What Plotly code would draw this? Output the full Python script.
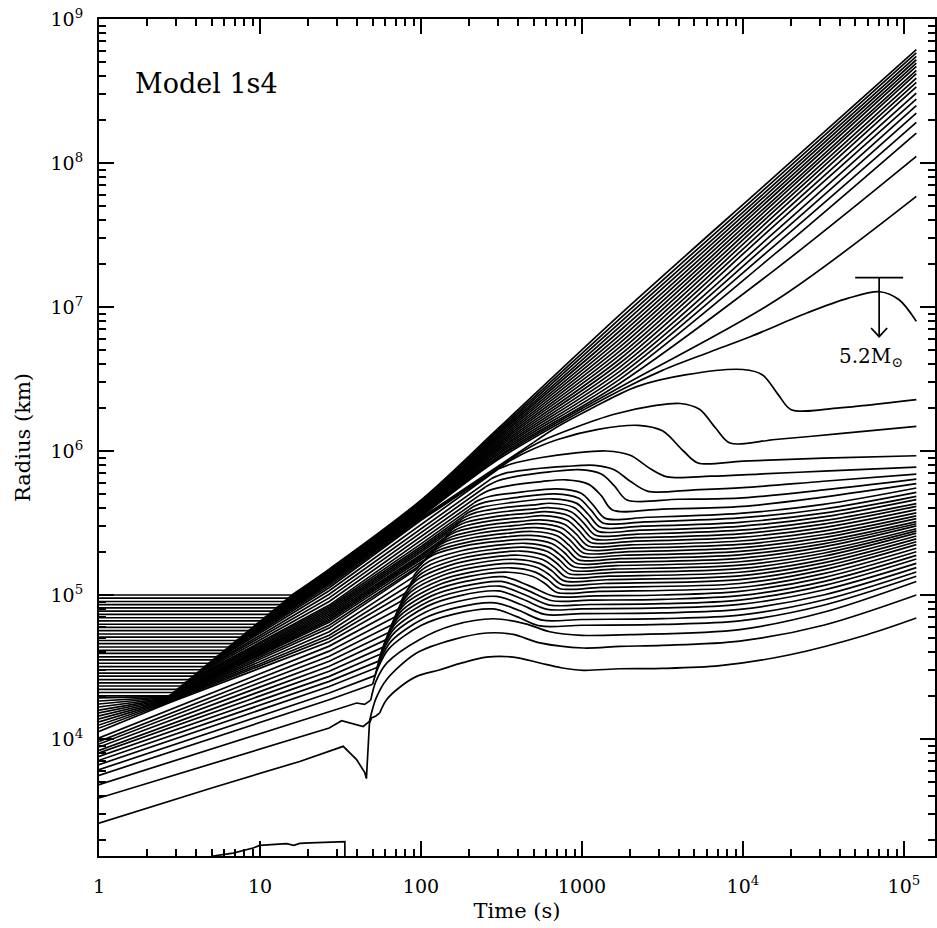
import plotly.graph_objects as go

# ---------------------------------------------------------------
# Data: every line is given as points of
# (log10 time [s], log10 radius [km]).  Each line = [before_bend, after_bend]
# ---------------------------------------------------------------

INNER_LINE = [(0.65, 3.15), (0.709, 3.1875), (0.833, 3.208), (0.957, 3.243), (0.999, 3.261),
              (1.165, 3.273), (1.21, 3.262), (1.247, 3.275), (1.31, 3.278), (1.453, 3.285),
              (1.527, 3.287), (1.528, 3.10)]

LOWEST_LINES = [
    [[(0, 3.416), (0.7, 3.66), (1.247, 3.844), (1.43, 3.914), (1.517, 3.949), (1.6, 3.857),
      (1.651, 3.767), (1.661, 3.725), (1.672, 3.95), (1.68, 4.11), (1.693, 4.146), (1.72, 4.16),
      (1.744, 4.181)],
     [(1.786, 4.273), (1.88, 4.37), (1.973, 4.435), (2.117, 4.481), (2.26, 4.53), (2.407, 4.569),
      (2.573, 4.569), (2.739, 4.528), (2.87, 4.495), (3.008, 4.477), (3.236, 4.488), (3.5, 4.49),
      (3.857, 4.509), (4.292, 4.585), (4.77, 4.724), (5.077, 4.84)]],
    [[(0, 3.59), (1.43, 4.076), (1.507, 4.127), (1.6, 4.10), (1.641, 4.087), (1.68, 4.122)],
     [(1.72, 4.28), (1.786, 4.412), (1.973, 4.597), (2.2, 4.69), (2.407, 4.736), (2.573, 4.726),
      (2.739, 4.667), (3.008, 4.632), (3.236, 4.643), (3.5, 4.65), (3.98, 4.68), (4.5, 4.79),
      (5.077, 5.00)]],
    [[(0, 3.683), (1.43, 4.192), (1.6, 4.25), (1.65, 4.24), (1.688, 4.27)],
     [(1.72, 4.40), (1.79, 4.53), (1.99, 4.69), (2.2, 4.79), (2.45, 4.835), (2.65, 4.80),
      (2.8, 4.745), (3.0, 4.72), (3.3, 4.725), (3.98, 4.76), (4.5, 4.88), (5.077, 5.094)]],
]

LOW_LINES = [
    [[(0, 3.747), (1.43, 4.273), (1.70, 4.38)],
     [(1.73, 4.485), (1.80, 4.626), (2.00, 4.788), (2.20, 4.866), (2.45, 4.903), (2.595, 4.85),
      (2.74, 4.785), (3.0, 4.79), (3.5, 4.796), (3.98, 4.82), (4.5, 4.929), (5.077, 5.13)]],
    [[(0, 3.787), (1.43, 4.319), (1.714, 4.44)],
     [(1.744, 4.541), (1.814, 4.678), (2.014, 4.835), (2.214, 4.911), (2.46, 4.946), (2.61, 4.892),
      (2.755, 4.825), (3.0, 4.83), (3.5, 4.836), (3.98, 4.86), (4.5, 4.965), (5.077, 5.16)]],
    [[(0, 3.822), (1.43, 4.365), (1.727, 4.496)],
     [(1.757, 4.595), (1.827, 4.728), (2.027, 4.881), (2.227, 4.955), (2.47, 4.99), (2.62, 4.934),
      (2.77, 4.865), (3.0, 4.87), (3.5, 4.876), (3.98, 4.90), (4.5, 5.0), (5.077, 5.19)]],
    [[(0, 3.852), (1.43, 4.40), (1.737, 4.541)],
     [(1.767, 4.638), (1.837, 4.77), (2.037, 4.921), (2.237, 4.994), (2.48, 5.028), (2.633, 4.97),
      (2.785, 4.90), (3.0, 4.904), (3.5, 4.91), (3.98, 4.935), (4.5, 5.035), (5.077, 5.22)]],
    [[(0, 3.879), (1.43, 4.435), (1.75, 4.59)],
     [(1.78, 4.684), (1.85, 4.811), (2.05, 4.957), (2.25, 5.028), (2.49, 5.061), (2.645, 5.002),
      (2.80, 4.93), (3.05, 4.934), (3.5, 4.94), (3.98, 4.965), (4.5, 5.065), (5.077, 5.25)]],
    [[(0, 3.903), (1.43, 4.47), (1.766, 4.638)],
     [(1.796, 4.729), (1.866, 4.852), (2.066, 4.994), (2.266, 5.062), (2.50, 5.094), (2.658, 5.034),
      (2.815, 4.96), (3.05, 4.964), (3.5, 4.97), (3.98, 4.995), (4.5, 5.093), (5.077, 5.275)]],
    [[(0, 3.921), (1.43, 4.505), (1.784, 4.69)],
     [(1.814, 4.777), (1.884, 4.895), (2.084, 5.031), (2.284, 5.096), (2.51, 5.127), (2.67, 5.065),
      (2.83, 4.99), (3.08, 4.994), (3.5, 5.0), (3.98, 5.025), (4.5, 5.121), (5.077, 5.30)]],
    [[(0, 3.944), (1.43, 4.54), (1.80, 4.74)],
     [(1.83, 4.824), (1.90, 4.936), (2.10, 5.066), (2.30, 5.129), (2.545, 5.158), (2.695, 5.128),
      (2.77, 5.080), (2.845, 5.017), (3.105, 5.025), (3.98, 5.052), (4.5, 5.148), (5.077, 5.325)]],
    [[(0, 3.965), (1.43, 4.575), (1.82, 4.793)],
     [(1.85, 4.872), (1.92, 4.979), (2.12, 5.102), (2.32, 5.161), (2.56, 5.189), (2.71, 5.159),
      (2.785, 5.110), (2.86, 5.045), (3.12, 5.053), (3.98, 5.08), (4.5, 5.175), (5.077, 5.35)]],
    [[(0, 3.983), (1.43, 4.61), (1.838, 4.847)],
     [(1.868, 4.921), (1.938, 5.022), (2.138, 5.137), (2.338, 5.193), (2.575, 5.219), (2.725, 5.189),
      (2.80, 5.138), (2.875, 5.072), (3.135, 5.08), (3.98, 5.107), (4.5, 5.199), (5.077, 5.37)]],
    [[(0, 4.007), (1.43, 4.645), (1.86, 4.903)],
     [(1.89, 4.972), (1.96, 5.065), (2.16, 5.172), (2.36, 5.224), (2.59, 5.248), (2.74, 5.218),
      (2.815, 5.166), (2.89, 5.098), (3.15, 5.106), (3.98, 5.133), (4.5, 5.223), (5.077, 5.39)]],
    [[(0, 4.053), (0.433, 4.25), (1.43, 4.675), (1.878, 4.958)],
     [(1.908, 5.022), (1.978, 5.107), (2.178, 5.206), (2.378, 5.254), (2.605, 5.276), (2.755, 5.246),
      (2.83, 5.192), (2.905, 5.123), (3.165, 5.131), (3.98, 5.158), (4.5, 5.246), (5.077, 5.41)]],
    [[(0, 4.076), (0.433, 4.255), (1.43, 4.70), (1.906, 5.015)],
     [(1.936, 5.073), (2.006, 5.151), (2.206, 5.241), (2.406, 5.285), (2.62, 5.305), (2.77, 5.275),
      (2.845, 5.219), (2.92, 5.148), (3.18, 5.156), (3.98, 5.183), (4.5, 5.269), (5.077, 5.43)]],
    [[(0, 4.097), (0.433, 4.26), (1.43, 4.72), (1.929, 5.069)],
     [(1.959, 5.122), (2.029, 5.193), (2.229, 5.274), (2.429, 5.314), (2.635, 5.332), (2.785, 5.302),
      (2.86, 5.244), (2.935, 5.172), (3.195, 5.18), (3.98, 5.207), (4.5, 5.29), (5.077, 5.445)]],
    [[(0, 4.118), (0.433, 4.265), (1.43, 4.745), (1.951, 5.124)],
     [(1.981, 5.171), (2.051, 5.234), (2.251, 5.307), (2.451, 5.343), (2.65, 5.359), (2.80, 5.329),
      (2.875, 5.269), (2.95, 5.196), (3.21, 5.204), (3.98, 5.231), (4.5, 5.311), (5.077, 5.46)]],
    [[(0, 4.139), (0.433, 4.27), (1.43, 4.77), (1.974, 5.18)],
     [(2.004, 5.221), (2.074, 5.277), (2.274, 5.341), (2.474, 5.372), (2.665, 5.386), (2.815, 5.356),
      (2.89, 5.295), (2.965, 5.22), (3.225, 5.228), (3.98, 5.255), (4.5, 5.334), (5.077, 5.48)]],
]

MID_LINES = [
    [[(0, 4.160), (0.433, 4.274), (1.43, 4.79), (2.0, 5.21)],
     [(2.03, 5.251), (2.10, 5.306), (2.30, 5.369), (2.50, 5.40), (2.68, 5.414), (2.83, 5.384),
      (2.905, 5.321), (2.98, 5.244), (3.24, 5.252), (3.98, 5.279), (4.5, 5.355), (5.077, 5.495)]],
    [[(0, 4.181), (0.433, 4.278), (1.43, 4.81), (2.0, 5.226), (2.03, 5.25)],
     [(2.06, 5.288), (2.13, 5.34), (2.33, 5.399), (2.53, 5.428), (2.695, 5.441), (2.845, 5.411),
      (2.92, 5.346), (2.995, 5.268), (3.255, 5.276), (3.98, 5.303), (4.5, 5.375), (5.077, 5.51)]],
    [[(0, 4.201), (0.433, 4.282), (1.43, 4.822), (2.0, 5.242), (2.06, 5.29)],
     [(2.09, 5.326), (2.16, 5.374), (2.36, 5.429), (2.56, 5.456), (2.71, 5.468), (2.86, 5.438),
      (2.935, 5.371), (3.01, 5.292), (3.27, 5.30), (3.98, 5.327), (4.5, 5.398), (5.077, 5.53)]],
    [[(0, 4.222), (0.433, 4.286), (1.43, 4.834), (2.0, 5.253), (2.09, 5.325)],
     [(2.12, 5.359), (2.19, 5.405), (2.39, 5.458), (2.59, 5.483), (2.725, 5.495), (2.875, 5.465),
      (2.95, 5.397), (3.025, 5.316), (3.285, 5.324), (3.98, 5.351), (4.5, 5.42), (5.077, 5.55)]],
    [[(0, 4.243), (0.433, 4.29), (1.43, 4.846), (2.0, 5.269), (2.12, 5.365)],
     [(2.15, 5.396), (2.22, 5.439), (2.42, 5.487), (2.62, 5.511), (2.74, 5.522), (2.89, 5.492),
      (2.965, 5.422), (3.04, 5.34), (3.30, 5.348), (3.98, 5.375), (4.5, 5.443), (5.077, 5.57)]],
    [[(0, 4.264), (0.433, 4.293), (1.43, 4.858), (2.0, 5.28), (2.15, 5.40)],
     [(2.18, 5.43), (2.25, 5.471), (2.45, 5.518), (2.65, 5.54), (2.755, 5.551), (2.905, 5.521),
      (2.98, 5.449), (3.055, 5.365), (3.315, 5.373), (3.98, 5.40), (4.5, 5.468), (5.077, 5.593)]],
    [[(0, 4.285), (0.433, 4.296), (1.43, 4.87), (2.0, 5.296), (2.18, 5.44)],
     [(2.21, 5.468), (2.28, 5.505), (2.48, 5.548), (2.68, 5.569), (2.77, 5.579), (2.92, 5.549),
      (2.995, 5.475), (3.07, 5.39), (3.33, 5.398), (3.98, 5.425), (4.5, 5.492), (5.077, 5.616)]],
    [[(0, 4.30), (0.433, 4.30), (1.43, 4.882), (2.0, 5.309), (2.21, 5.477)],
     [(2.24, 5.503), (2.31, 5.538), (2.51, 5.578), (2.71, 5.598), (2.785, 5.607), (2.935, 5.577),
      (3.01, 5.501), (3.085, 5.415), (3.345, 5.423), (3.98, 5.45), (4.5, 5.516), (5.077, 5.634)]],
    [[(0, 4.323), (0.458, 4.323), (1.43, 4.894), (2.0, 5.323), (2.24, 5.515)],
     [(2.27, 5.539), (2.34, 5.572), (2.54, 5.61), (2.72, 5.628), (2.80, 5.637), (2.95, 5.607),
      (3.025, 5.53), (3.10, 5.442), (3.36, 5.45), (3.98, 5.477), (4.5, 5.542), (5.077, 5.662)]],
    [[(0, 4.345), (0.482, 4.345), (1.43, 4.906), (2.0, 5.337), (2.27, 5.553)],
     [(2.30, 5.576), (2.37, 5.607), (2.57, 5.643), (2.815, 5.668), (2.965, 5.638), (3.04, 5.559),
      (3.115, 5.47), (3.375, 5.478), (3.98, 5.505), (4.5, 5.568), (5.077, 5.685)]],
    [[(0, 4.368), (0.507, 4.368), (1.43, 4.918), (2.0, 5.355), (2.30, 5.595)],
     [(2.33, 5.616), (2.40, 5.645), (2.60, 5.678), (2.83, 5.702), (2.98, 5.672), (3.055, 5.591),
      (3.13, 5.50), (3.39, 5.508), (3.98, 5.535), (4.5, 5.597), (5.077, 5.713)]],
    [[(0, 4.39), (0.532, 4.39), (1.43, 4.93), (2.0, 5.376), (2.33, 5.64)],
     [(2.36, 5.659), (2.43, 5.686), (2.63, 5.716), (2.845, 5.737), (2.995, 5.707), (3.07, 5.624),
      (3.145, 5.532), (3.405, 5.54), (3.98, 5.567), (4.5, 5.629), (5.077, 5.743)]],
]

HUMP_LINES = [
    [[(0, 4.413), (0.556, 4.413), (1.43, 4.955), (2.0, 5.402), (2.36, 5.69)],
     [(2.42, 5.725), (2.55, 5.76), (2.75, 5.788), (2.90, 5.80), (3.04, 5.77), (3.12, 5.69),
      (3.19, 5.59), (3.5, 5.597), (4.0, 5.615), (4.5, 5.68), (5.077, 5.773)]],
    [[(0, 4.436), (0.581, 4.436), (1.43, 4.98), (2.0, 5.43), (2.40, 5.75)],
     [(2.47, 5.79), (2.6, 5.825), (2.8, 5.855), (2.98, 5.87), (3.12, 5.84), (3.2, 5.76),
      (3.28, 5.66), (3.6, 5.665), (4.0, 5.675), (4.5, 5.73), (5.077, 5.805)]],
    [[(0, 4.458), (0.606, 4.458), (1.43, 5.005), (2.0, 5.458), (2.44, 5.81)],
     [(2.52, 5.845), (2.7, 5.875), (2.9, 5.893), (3.08, 5.90), (3.2, 5.87), (3.3, 5.79),
      (3.41, 5.72), (3.7, 5.73), (4.0, 5.745), (4.5, 5.79), (5.077, 5.84)]],
    [[(0, 4.481), (0.63, 4.481), (1.43, 5.03), (2.0, 5.491), (2.48, 5.875)],
     [(2.56, 5.91), (2.75, 5.955), (2.95, 5.985), (3.15, 6.0), (3.3, 5.97), (3.42, 5.88),
      (3.53, 5.82), (3.8, 5.825), (4.1, 5.84), (4.5, 5.86), (5.077, 5.888)]],
    [[(0, 4.503), (0.655, 4.503), (1.43, 5.05), (2.0, 5.518), (2.55, 5.93)],
     [(2.65, 5.99), (2.85, 6.08), (3.1, 6.15), (3.35, 6.178), (3.5, 6.14), (3.63, 6.0),
      (3.72, 5.917), (4.0, 5.93), (4.5, 5.95), (5.077, 5.967)]],
    [[(0, 4.526), (0.68, 4.526), (1.43, 5.065), (2.0, 5.525), (2.62, 5.99)],
     [(2.75, 6.07), (2.95, 6.16), (3.2, 6.255), (3.45, 6.315), (3.61, 6.33), (3.73, 6.29),
      (3.83, 6.16), (3.92, 6.055), (4.2, 6.08), (4.6, 6.12), (5.077, 6.171)]],
    [[(0, 4.549), (0.705, 4.549), (1.43, 5.078), (2.0, 5.535), (2.70, 6.06)],
     [(2.85, 6.17), (3.05, 6.29), (3.34, 6.447), (3.65, 6.53), (4.0, 6.566), (4.12, 6.53),
      (4.22, 6.39), (4.30, 6.287), (4.6, 6.30), (5.077, 6.357)]],
]

# the 5.2 Msun shell
SHELL_52 = [[(0, 4.571), (0.729, 4.571)],
            [(1.43, 5.085), (2.0, 5.545), (2.491, 5.95), (3.236, 6.42), (3.5, 6.56), (3.795, 6.688),
             (4.049, 6.795), (4.4, 6.96), (4.65, 7.06), (4.85, 7.106), (4.97, 7.05), (5.077, 6.90)]]

FAN_LINES = [
    [[(0, 4.594), (0.754, 4.594)], [(1.43, 5.09), (2.0, 5.551), (2.491, 5.962), (3.236, 6.443), (4.21, 7.05), (5.077, 7.768)]],
    [[(0, 4.616), (0.779, 4.616)], [(1.43, 5.095), (2.0, 5.557), (2.491, 5.973), (3.236, 6.471), (4.2, 7.26), (5.077, 8.046)]],
    [[(0, 4.639), (0.803, 4.639)], [(1.43, 5.10), (2.0, 5.563), (2.491, 5.985), (3.236, 6.499), (4.2, 7.37), (5.077, 8.208)]],
    [[(0, 4.662), (0.828, 4.662)], [(1.43, 5.105), (2.0, 5.569), (2.491, 5.996), (3.236, 6.527), (4.2, 7.43), (5.077, 8.282)]],
    [[(0, 4.684), (0.853, 4.684)], [(1.43, 5.11), (2.0, 5.575), (2.491, 6.008), (3.236, 6.555), (4.2, 7.48), (5.077, 8.347)]],
    [[(0, 4.707), (0.878, 4.707)], [(1.43, 5.115), (2.0, 5.581), (2.491, 6.019), (3.236, 6.583), (4.2, 7.523), (5.077, 8.398)]],
    [[(0, 4.729), (0.902, 4.729)], [(1.43, 5.12), (2.0, 5.587), (2.491, 6.031), (3.236, 6.611), (4.2, 7.571), (5.077, 8.444)]],
    [[(0, 4.752), (0.927, 4.752)], [(1.43, 5.125), (2.0, 5.593), (2.491, 6.042), (3.236, 6.639), (4.2, 7.606), (5.077, 8.486)]],
    [[(0, 4.775), (0.952, 4.775)], [(1.43, 5.13), (2.0, 5.599), (2.491, 6.054), (3.236, 6.667), (4.2, 7.641), (5.077, 8.528)]],
    [[(0, 4.797), (0.976, 4.797)], [(1.43, 5.135), (2.0, 5.605), (2.491, 6.065), (3.236, 6.695), (4.2, 7.672), (5.077, 8.560)]],
    [[(0, 4.820), (1.001, 4.820)], [(1.43, 5.14), (2.0, 5.611), (2.491, 6.077), (3.236, 6.723), (4.2, 7.701), (5.077, 8.590)]],
    [[(0, 4.842), (1.026, 4.842)], [(1.43, 5.145), (2.0, 5.617), (2.491, 6.088), (3.236, 6.751), (4.2, 7.730), (5.077, 8.620)]],
    [[(0, 4.865), (1.050, 4.865)], [(1.43, 5.15), (2.0, 5.623), (2.491, 6.10), (3.236, 6.779), (4.2, 7.755), (5.077, 8.643)]],
    [[(0, 4.888), (1.075, 4.888)], [(1.43, 5.155), (2.0, 5.629), (2.491, 6.111), (3.236, 6.807), (4.2, 7.783), (5.077, 8.671)]],
    [[(0, 4.910), (1.100, 4.910)], [(1.43, 5.16), (2.0, 5.635), (2.491, 6.123), (3.236, 6.835), (4.2, 7.808), (5.077, 8.694)]],
    [[(0, 4.933), (1.125, 4.933)], [(1.43, 5.165), (2.0, 5.641), (2.491, 6.134), (3.236, 6.863), (4.2, 7.834), (5.077, 8.717)]],
    [[(0, 4.955), (1.149, 4.955)], [(1.43, 5.17), (2.0, 5.647), (2.491, 6.146), (3.236, 6.891), (4.2, 7.859), (5.077, 8.740)]],
    [[(0, 4.978), (1.174, 4.978)], [(1.43, 5.175), (2.0, 5.653), (2.491, 6.157), (3.236, 6.919), (4.2, 7.885), (5.077, 8.764)]],
    [[(0, 5.0), (1.198, 5.0)], [(1.43, 5.18), (2.0, 5.659), (2.491, 6.169), (3.236, 6.947), (4.2, 7.910), (5.077, 8.787)]],
]

X_TICKS = [1, 10, 100, 1000, 1e4, 1e5]
X_TICK_TEXT = ["1", "10", "100", "1000", "10<sup>4</sup>", "10<sup>5</sup>"]
Y_TICKS = [1e4, 1e5, 1e6, 1e7, 1e8, 1e9]
Y_TICK_TEXT = ["10<sup>4</sup>", "10<sup>5</sup>", "10<sup>6</sup>", "10<sup>7</sup>",
               "10<sup>8</sup>", "10<sup>9</sup>"]

# mass-cut marker (T-bar with arrow) in log10 units
MARK_T = 4.846
MARK_BAR_T = (4.697, 4.995)
MARK_TOP_R = 7.2035
MARK_TIP_R = 6.794
MARK_WING = (0.05, 0.06)

X_RANGE = (0.0, 5.193)
Y_RANGE = (3.1875, 9.0)

# ---------------------------------------------------------------
LINE = dict(color="black", width=1.7)
FONT = "DejaVu Serif"

fig = go.Figure()


def p(v):
    return 10 ** v


def add_pts(pts, shape):
    style = dict(LINE, shape="spline", smoothing=0.9) if shape == "spline" else LINE
    fig.add_trace(go.Scatter(x=[p(a) for a, _ in pts], y=[p(b) for _, b in pts], mode="lines",
                             line=style, hoverinfo="skip", showlegend=False))


def add_line(pre, post):
    add_pts(pre, "linear")
    add_pts([pre[-1]] + post, "spline")


add_pts(INNER_LINE, "linear")
for fam in (LOWEST_LINES, LOW_LINES, MID_LINES, HUMP_LINES, [SHELL_52], FAN_LINES):
    for pre, post in fam:
        add_line(pre, post)

# marker: bar, stem, arrow head
add_pts([(MARK_BAR_T[0], MARK_TOP_R), (MARK_BAR_T[1], MARK_TOP_R)], "linear")
add_pts([(MARK_T, MARK_TOP_R), (MARK_T, MARK_TIP_R)], "linear")
add_pts([(MARK_T - MARK_WING[0], MARK_TIP_R + MARK_WING[1]), (MARK_T, MARK_TIP_R),
         (MARK_T + MARK_WING[0], MARK_TIP_R + MARK_WING[1])], "linear")

xminor = [m * 10 ** e for e in range(0, 6) for m in range(2, 10) if m * 10 ** e < p(X_RANGE[1])]
yminor = [m * 10 ** e for e in range(3, 9) for m in range(2, 10) if p(Y_RANGE[0]) < m * 10 ** e < 1e9]

axis_common = dict(type="log", showgrid=False, zeroline=False, showline=True, linecolor="black",
                   linewidth=2, mirror="ticks", ticks="inside", ticklen=15, tickwidth=1.5,
                   tickcolor="black", automargin=False,
                   tickfont=dict(family=FONT, size=19, color="black"))

fig.update_xaxes(**axis_common, range=list(X_RANGE), tickmode="array", tickvals=X_TICKS,
                 ticktext=X_TICK_TEXT, ticklabelstandoff=12,
                 minor=dict(ticks="inside", ticklen=7, tickwidth=1.5, tickcolor="black",
                            tickmode="array", tickvals=xminor),
                 title=dict(text="Time (s)", font=dict(family=FONT, size=21, color="black"), standoff=8))
fig.update_yaxes(**axis_common, range=list(Y_RANGE), tickmode="array", tickvals=Y_TICKS,
                 ticktext=Y_TICK_TEXT, ticklabelstandoff=10,
                 minor=dict(ticks="inside", ticklen=7, tickwidth=1.5, tickcolor="black",
                            tickmode="array", tickvals=yminor),
                 title=dict(text="Radius (km)", font=dict(family=FONT, size=21, color="black"), standoff=14))

fig.add_annotation(text="Model 1s4", xref="paper", yref="paper", x=0.041, y=0.923,
                   xanchor="left", yanchor="middle", showarrow=False,
                   font=dict(family=FONT, size=27, color="black"))
fig.add_annotation(text="5.2M<sub>⊙</sub>", xref="paper", yref="paper", x=0.923, y=0.596,
                   xanchor="center", yanchor="middle", showarrow=False,
                   font=dict(family=FONT, size=20, color="black"))

fig.update_layout(width=937, height=928, margin=dict(l=99, r=2, t=19, b=72),
                  paper_bgcolor="white", plot_bgcolor="white", showlegend=False)

# place the 937x928 figure at the page's top-left corner (no default body margin)
fig.write_html("out.html", config={"displayModeBar": False},
               post_script="document.body.style.margin='0';document.body.style.overflow='hidden';")
